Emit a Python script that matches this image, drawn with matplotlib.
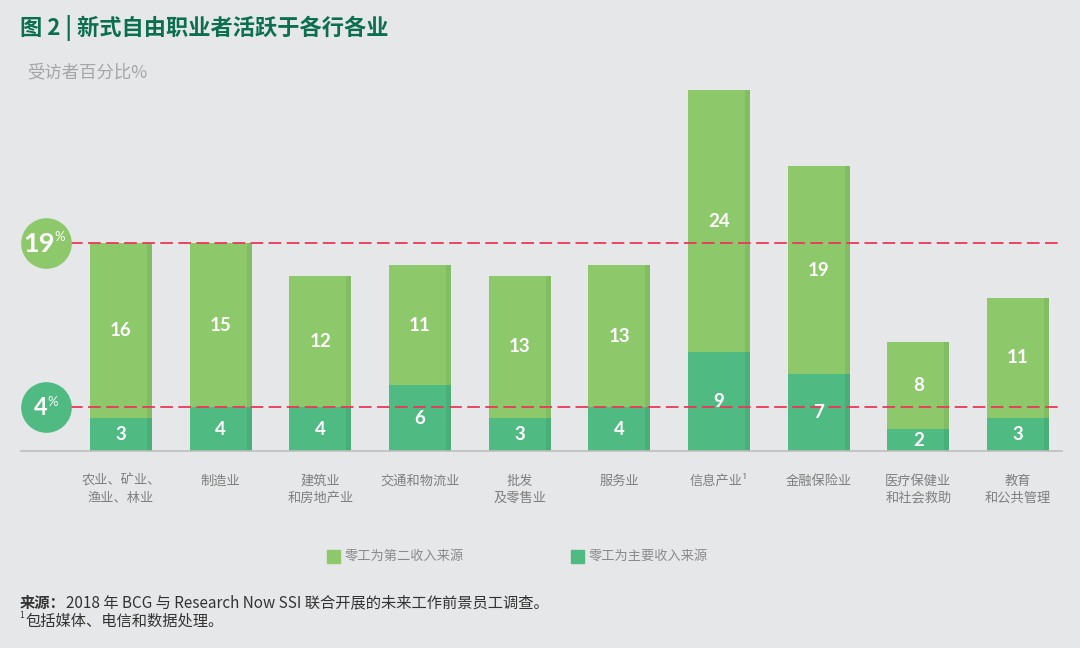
import matplotlib
matplotlib.use('Agg')
import matplotlib.pyplot as plt
from matplotlib.patches import Rectangle
import numpy as np

plt.rcParams['font.family'] = ['Noto Sans CJK SC', 'DejaVu Sans']

# 数据
categories = ['农业、矿业、\n渔业、林业', '制造业', '建筑业\n和房地产业', '交通和物流业',
              '批发\n及零售业', '服务业', '信息产业¹', '金融保险业',
              '医疗保健业\n和社会救助', '教育\n和公共管理']
primary = [3, 4, 4, 6, 3, 4, 9, 7, 2, 3]          # 零工为主要收入来源
secondary = [16, 15, 12, 11, 13, 13, 24, 19, 8, 11]  # 零工为第二收入来源
ref_levels = [19, 4]
ref_labels = ['19', '4']
legend_labels = ['零工为第二收入来源', '零工为主要收入来源']

# 颜色
bg = '#E6E7E9'
c_light = '#8DC96B'
c_light_edge = '#83BD63'
c_dark = '#4FBB82'
c_dark_edge = '#49AF79'
c_red = '#E8385A'
c_title = '#0B6E4F'

W, H = 1080, 648
fig = plt.figure(figsize=(W / 100, H / 100), dpi=100, facecolor=bg)

step = 99.67  # 像素/类别
x0_px, x1_px, base_px = 21, 1062, 451
ppu = 10.95   # 像素/百分点
ytop = 34
ax = fig.add_axes([x0_px / W, (H - base_px) / H, (x1_px - x0_px) / W, ytop * ppu / H])
ax.set_facecolor(bg)
xl = -(121 - x0_px) / step
xr = 9 + (x1_px - 1018) / step
ax.set_xlim(xl, xr)
ax.set_ylim(0, ytop)

x = np.arange(len(categories))
bw = 0.622
sw = 0.05
ax.bar(x, primary, width=bw, color=c_dark, zorder=2)
ax.bar(x, secondary, width=bw, bottom=primary, color=c_light, zorder=2)
# 右侧阴影条
ax.bar(x + bw / 2 - sw, primary, width=sw, align='edge', color=c_dark_edge, zorder=2)
ax.bar(x + bw / 2 - sw, secondary, width=sw, align='edge', bottom=primary,
       color=c_light_edge, zorder=2)

for xi, p, s in zip(x, primary, secondary):
    ax.text(xi, p / 2, str(p), ha='center', va='center', color='white',
            fontsize=13.5, fontweight='bold', family='Lato', zorder=4)
    ax.text(xi, p + s / 2, str(s), ha='center', va='center', color='white',
            fontsize=13.5, fontweight='bold', family='Lato', zorder=4)

# 参考线与圆圈
cx = xl + (46 - x0_px) / step
line_start = xl + (70 - x0_px) / step
circle_style = [(c_light, 19.5, -5.0, 9.5), (c_dark, 17, -4.0, 5.0)]
for lvl, lab, (col, fs, dx, px) in zip(ref_levels, ref_labels, circle_style):
    ax.hlines(lvl, line_start, xr, colors=c_red, linewidth=1.3,
              linestyles=(0, (7, 3)), zorder=3, clip_on=False)
    ax.scatter([cx], [lvl], s=1330, color=col, zorder=5, clip_on=False, linewidths=0)
    ax.annotate(lab, (cx, lvl), xytext=(dx, -0.5), textcoords='offset points',
                ha='center', va='center', color='white', fontsize=fs,
                fontweight='bold', family='Lato', zorder=6, annotation_clip=False)
    ax.annotate('%', (cx, lvl), xytext=(px, 4), textcoords='offset points',
                ha='center', va='center', color='white', fontsize=9.5,
                family='Lato', zorder=6, annotation_clip=False)

for sp in ['top', 'right', 'left']:
    ax.spines[sp].set_visible(False)
ax.spines['bottom'].set_color('#BDBDBD')
ax.spines['bottom'].set_linewidth(1.2)
ax.set_yticks([])
ax.set_xticks(x)
ax.set_xticklabels(categories, fontsize=9.5, color='#7F7F7F', linespacing=1.4)
ax.tick_params(axis='x', length=0, pad=17)

# 标题
fig.text(20 / W, 1 - 28 / H, '图 2 | 新式自由职业者活跃于各行各业', fontsize=16,
         fontweight='bold', color=c_title, va='center', ha='left')
fig.text(27 / W, 1 - 72 / H, '受访者百分比%', fontsize=12.5, color='#A5A5A5',
         va='center', ha='left')

# 图例
for lx, lab, col in zip([327, 571], legend_labels, [c_light, c_dark]):
    fig.add_artist(Rectangle((lx / W, 1 - 563 / H), 13 / W, 13 / H,
                             transform=fig.transFigure, color=col))
    fig.text((lx + 18) / W, 1 - 556.5 / H, lab, fontsize=9.5, color='#8A8A8A',
             va='center', ha='left')

# 来源
fig.text(20 / W, 1 - 603 / H, '来源：', fontsize=11, fontweight='bold',
         color='#333333', va='center', ha='left')
fig.text(66 / W, 1 - 603 / H, '2018 年 BCG 与 Research Now SSI 联合开展的未来工作前景员工调查。',
         fontsize=11, color='#333333', va='center', ha='left')
fig.text(19 / W, 1 - 615 / H, '1', fontsize=6, color='#333333', va='center', ha='left')
fig.text(25 / W, 1 - 621 / H, '包括媒体、电信和数据处理。', fontsize=11,
         color='#333333', va='center', ha='left')

fig.savefig('out.png', dpi=100, facecolor=bg)
